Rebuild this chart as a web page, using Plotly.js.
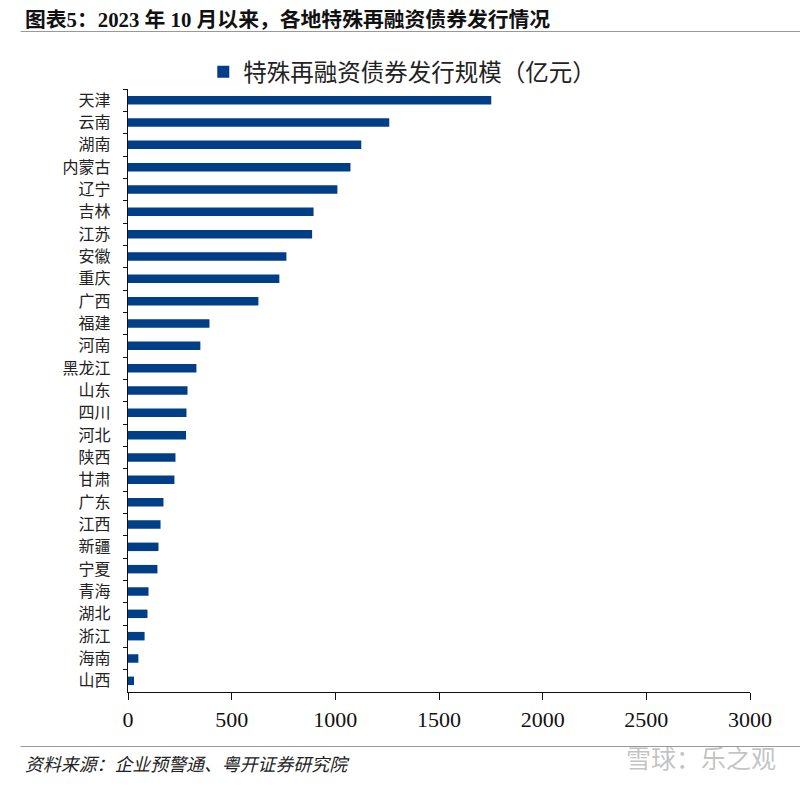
<!DOCTYPE html>
<html><head><meta charset="utf-8">
<script src="https://cdn.plot.ly/plotly-3.0.1.min.js"></script>
<style>html,body{margin:0;padding:0;background:#fff}#c{width:800px;height:786px}</style>
</head><body><div id="c"></div>
<script>
const categories=["天津","云南","湖南","内蒙古","辽宁","吉林","江苏","安徽","重庆","广西","福建","河南","黑龙江","山东","四川","河北","陕西","甘肃","广东","江西","新疆","宁夏","青海","湖北","浙江","海南","山西"];
const values=[1752,1260,1125,1073,1010,895,888,764,730,629,393,349,330,287,282,280,229,224,171,157,147,142,99,94,80,50,29];
const seriesName="特殊再融资债券发行规模（亿元）";
const xTicks=[0,500,1000,1500,2000,2500,3000];
const titleText="<b>图表5：2023 年 10 月以来，各地特殊再融资债券发行情况</b>";
const sourceText="<i>资料来源：企业预警通、粤开证券研究院</i>";
const watermark="雪球：乐之观";
const fam='"Liberation Serif","Noto Sans CJK SC",serif';
const L=127.5,T=89,W=622.5,H=603;
const px=x=>(x-L)/W, py=y=>(T+H-y)/H;
const rule=y=>({type:'line',xref:'paper',yref:'paper',x0:px(20),x1:px(800),y0:py(y),y1:py(y),line:{color:'#999',width:1.2}});
Plotly.newPlot('c',[{type:'bar',orientation:'h',y:categories,x:values,name:seriesName,marker:{color:'#003f88'},width:0.38,showlegend:true}],{
 width:800,height:786,paper_bgcolor:'#fff',plot_bgcolor:'#fff',
 margin:{l:L,r:800-L-W,t:T,b:786-T-H,pad:0},
 font:{family:fam,color:'#111'},
 xaxis:{range:[0,3000],tickvals:xTicks,ticks:'outside',ticklen:7,tickwidth:1,tickcolor:'#111',showline:true,linecolor:'#111',linewidth:1.2,showgrid:false,zeroline:false,tickfont:{size:22,family:'"Liberation Serif",serif',color:'#111'}},
 yaxis:{type:'category',autorange:false,range:[26.5,-0.5],categoryorder:'array',categoryarray:categories,tickmode:'linear',tickson:'boundaries',ticks:'outside',ticklen:4,tickwidth:1,tickcolor:'#111',showline:true,linecolor:'#111',linewidth:1.2,showgrid:false,zeroline:false,ticklabelstandoff:13,tickfont:{size:16,family:'"Noto Sans CJK SC",sans-serif',color:'#222'}},
 legend:{orientation:'h',x:px(402),xanchor:'center',y:py(72),yanchor:'middle',yref:'paper',font:{size:23.5,family:'"Noto Sans CJK SC",sans-serif',color:'#222'},itemwidth:12,bgcolor:'rgba(0,0,0,0)'},
 annotations:[
  {xref:'paper',yref:'paper',x:px(24),xanchor:'left',y:py(19),yanchor:'middle',text:titleText,showarrow:false,font:{size:20.8,family:fam,color:'#111'},xshift:-2},
  {xref:'paper',yref:'paper',x:px(24),xanchor:'left',y:py(765),yanchor:'middle',text:sourceText,showarrow:false,font:{size:17.9,family:fam,color:'#222'},xshift:-2},
  {xref:'paper',yref:'paper',x:px(778),xanchor:'right',y:py(757),yanchor:'middle',text:watermark,showarrow:false,font:{size:25,family:'"Noto Sans CJK SC",sans-serif',color:'rgba(120,120,120,0.45)'}}
 ],
 shapes:[rule(31.5),rule(746.5)]
},{displayModeBar:false,staticPlot:true});
</script></body></html>
